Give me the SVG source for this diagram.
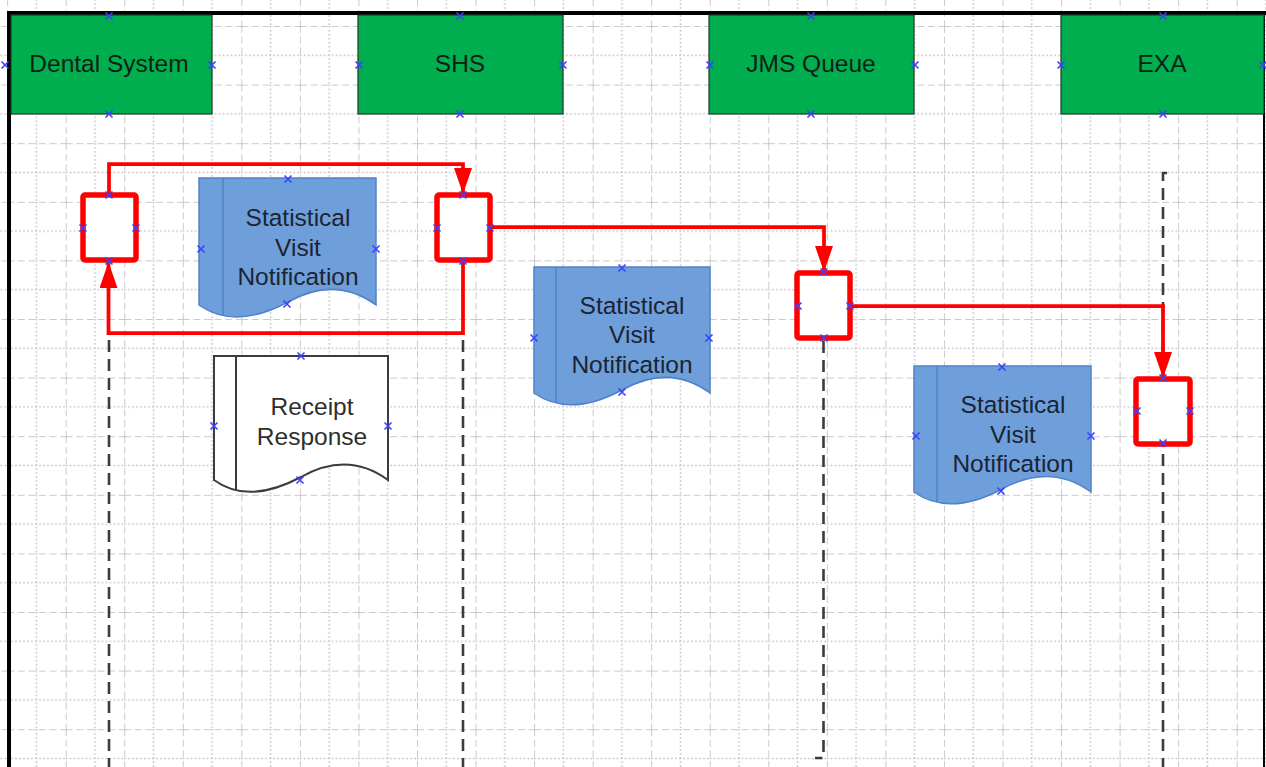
<svg xmlns="http://www.w3.org/2000/svg" xmlns:xlink="http://www.w3.org/1999/xlink" width="1266" height="767" viewBox="0 0 1266 767">
<style>
.hdr{fill:#00ae50;stroke:#1e3a26;stroke-width:1.2}
.ht{font-family:"Liberation Sans",Arial,sans-serif;font-size:24.5px;fill:#0e1f14;text-anchor:middle}
.dt{font-family:"Liberation Sans",Arial,sans-serif;font-size:24.5px;fill:#1c2433;text-anchor:middle}
.rt{font-family:"Liberation Sans",Arial,sans-serif;font-size:24.5px;fill:#2e2e2e;text-anchor:middle}
.doc{fill:#6e9fdb;stroke:#4f82c9;stroke-width:1.5}
.docw{fill:#ffffff;stroke:#3c3c3c;stroke-width:2}
.life{fill:none;stroke:#3c3c3c;stroke-width:2.6;stroke-dasharray:12 7}
.act{fill:#ffffff;stroke:#ff0000;stroke-width:5.5}
.msg{fill:none;stroke:#ff0000;stroke-width:3.75;marker-end:url(#arr)}
.gd{stroke:#b9b9b9;stroke-width:1.5;stroke-dasharray:7 3.6;fill:none}
.gp{stroke:#bdbdbd;stroke-width:1.5;stroke-dasharray:1.5 2.5;fill:none}
.mk{stroke:#3f3fff;stroke-width:1.6;fill:none}
</style>
<defs>
<pattern id="grid" patternUnits="userSpaceOnUse" x="7.15" y="26" width="58.55" height="58.6">
<line class="gd" x1="0" y1="0" x2="0" y2="58.6"/>
<line class="gp" x1="29.27" y1="0" x2="29.27" y2="58.6"/>
<line class="gd" x1="0" y1="0" x2="58.55" y2="0"/>
<line class="gp" x1="0" y1="29.3" x2="58.55" y2="29.3"/>
</pattern>
<marker id="arr" viewBox="0 0 26 18" refX="25" refY="9" markerWidth="26" markerHeight="18" orient="auto" markerUnits="userSpaceOnUse">
<path d="M0,0 L26,9 L0,18 Z" fill="#ff0000"/>
</marker>
<path id="x" class="mk" d="M-3.5,-3.5L3.5,3.5M-3.5,3.5L3.5,-3.5"/>
</defs>
<rect x="0" y="0" width="1266" height="767" fill="#ffffff"/>
<rect x="0" y="0" width="1266" height="767" fill="url(#grid)"/>
<g id="frame" fill="none" stroke="#000000">
<line x1="7" y1="13" x2="1266" y2="13" stroke-width="4"/>
<line x1="9" y1="11" x2="9" y2="767" stroke-width="4"/>
<line x1="1264" y1="13" x2="1264" y2="767" stroke-width="2"/>
</g>
<g id="dental-system"><rect class="hdr" x="11" y="15" width="201" height="99"/><text class="ht" x="109" y="72">Dental System</text></g>
<g id="shs"><rect class="hdr" x="358" y="15" width="205" height="99"/><text class="ht" x="460" y="72">SHS</text></g>
<g id="jms-queue"><rect class="hdr" x="709" y="15" width="205" height="99"/><text class="ht" x="811" y="72">JMS Queue</text></g>
<g id="exa"><rect class="hdr" x="1061" y="15" width="203" height="99"/><text class="ht" x="1162" y="72">EXA</text></g>
<g id="lifelines">
<path class="life" d="M109,340 V767"/>
<path class="life" d="M463,340 V767"/>
<path class="life" d="M823.5,341 V758 H815"/>
<path class="life" d="M1167,173 H1163 V767"/>
</g>
<g id="doc-svn-1"><path class="doc" d="M199,178 H376 V305 C350,286 320,284 288,302 C258,318 226,324 199,305 Z"/><line x1="223" y1="178" x2="223" y2="315" stroke="#4f82c9" stroke-width="1.5"/><text class="dt" x="298" y="226">Statistical</text><text class="dt" x="298" y="256">Visit</text><text class="dt" x="298" y="285">Notification</text></g>
<g id="doc-receipt"><path class="docw" d="M214,356 H388 V480 C362,461 333,459 301,477 C271,493 240,499 214,480 Z"/><line x1="236" y1="356" x2="236" y2="490" stroke="#3c3c3c" stroke-width="2"/><text class="rt" x="312" y="415">Receipt</text><text class="rt" x="312" y="445">Response</text></g>
<g id="doc-svn-2"><path class="doc" d="M534,267 H710 V393 C684,374 654,372 622,390 C592,406 561,412 534,393 Z"/><line x1="556" y1="267" x2="556" y2="403" stroke="#4f82c9" stroke-width="1.5"/><text class="dt" x="632" y="314">Statistical</text><text class="dt" x="632" y="343">Visit</text><text class="dt" x="632" y="373">Notification</text></g>
<g id="doc-svn-3"><path class="doc" d="M914,366 H1091 V492 C1065,473 1035,471 1002,489 C972,505 941,511 914,492 Z"/><line x1="937" y1="366" x2="937" y2="502" stroke="#4f82c9" stroke-width="1.5"/><text class="dt" x="1013" y="413">Statistical</text><text class="dt" x="1013" y="443">Visit</text><text class="dt" x="1013" y="472">Notification</text></g>
<g id="connectors">
<path class="msg" d="M109,195 V164 H463 V193"/>
<path class="msg" d="M463,262 V333 H108.5 V263"/>
<path class="msg" d="M490,227 H824 V271"/>
<path class="msg" d="M850,306 H1163 V377"/>
</g>
<g id="act-dental"><rect class="act" x="83" y="195" width="53" height="65" rx="2"/></g>
<g id="act-shs"><rect class="act" x="437" y="195" width="53" height="65" rx="2"/></g>
<g id="act-jms"><rect class="act" x="797" y="273" width="53" height="65" rx="2"/></g>
<g id="act-exa"><rect class="act" x="1136" y="379" width="54" height="65" rx="2"/></g>
<g id="markers">
<use xlink:href="#x" x="109" y="16"/><use xlink:href="#x" x="5" y="65"/><use xlink:href="#x" x="212" y="65"/><use xlink:href="#x" x="109" y="114"/>
<use xlink:href="#x" x="460" y="16"/><use xlink:href="#x" x="359" y="65"/><use xlink:href="#x" x="563" y="65"/><use xlink:href="#x" x="460" y="114"/>
<use xlink:href="#x" x="811" y="16"/><use xlink:href="#x" x="710" y="65"/><use xlink:href="#x" x="915" y="65"/><use xlink:href="#x" x="811" y="114"/>
<use xlink:href="#x" x="1163" y="16"/><use xlink:href="#x" x="1061" y="65"/><use xlink:href="#x" x="1263" y="65"/><use xlink:href="#x" x="1163" y="114"/>
<use xlink:href="#x" x="109" y="195"/><use xlink:href="#x" x="109" y="261"/><use xlink:href="#x" x="83" y="228"/><use xlink:href="#x" x="136" y="228"/>
<use xlink:href="#x" x="463" y="195"/><use xlink:href="#x" x="463" y="261"/><use xlink:href="#x" x="437" y="228"/><use xlink:href="#x" x="490" y="228"/>
<use xlink:href="#x" x="824" y="272"/><use xlink:href="#x" x="824" y="338"/><use xlink:href="#x" x="798" y="306"/><use xlink:href="#x" x="850" y="306"/>
<use xlink:href="#x" x="1163" y="378"/><use xlink:href="#x" x="1163" y="443"/><use xlink:href="#x" x="1137" y="411"/><use xlink:href="#x" x="1190" y="411"/>
<use xlink:href="#x" x="288" y="179"/><use xlink:href="#x" x="201" y="249"/><use xlink:href="#x" x="376" y="249"/><use xlink:href="#x" x="287" y="304"/>
<use xlink:href="#x" x="622" y="268"/><use xlink:href="#x" x="534" y="338"/><use xlink:href="#x" x="709" y="338"/><use xlink:href="#x" x="622" y="392"/>
<use xlink:href="#x" x="1002" y="367"/><use xlink:href="#x" x="916" y="436"/><use xlink:href="#x" x="1091" y="436"/><use xlink:href="#x" x="1001" y="491"/>
<use xlink:href="#x" x="301" y="356"/><use xlink:href="#x" x="214" y="426"/><use xlink:href="#x" x="388" y="426"/><use xlink:href="#x" x="300" y="480"/>
</g>
</svg>
